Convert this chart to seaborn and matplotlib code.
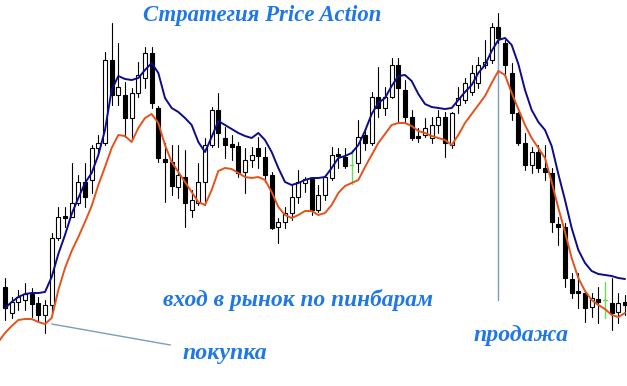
import numpy as np
import pandas as pd
import matplotlib
matplotlib.use("Agg")
import matplotlib.pyplot as plt
import seaborn as sns

# ---- data (chart units, measured top-down) ----
opens = [287, 313, 302, 300, 294, 303, 315, 305, 238, 216, 217, 203, 182, 180, 148, 143, 60, 95, 95, 118,
         93, 78, 53, 108, 159, 162, 187, 177, 210, 203, 182, 145, 110, 138, 144, 146, 172, 160, 148, 157,
         175, 227, 222, 213, 197, 183, 179, 210, 195, 178, 154, 157, 165, 163, 135, 143, 97, 108, 97, 65,
         90, 117, 136, 135, 138, 125, 117, 145, 105, 100, 92, 83, 65, 60, 27, 43, 73, 113, 143, 165,
         152, 168, 173, 224, 227, 279, 291, 293, 307, 299, 300, 303, 312, 302]
highs = [278, 297, 290, 283, 288, 297, 300, 233, 207, 207, 163, 175, 163, 145, 135, 52, 23, 43, 82, 88,
         62, 47, 47, 106, 143, 145, 145, 150, 190, 163, 138, 107, 93, 127, 135, 142, 148, 147, 137, 147,
         172, 218, 207, 185, 170, 177, 177, 185, 175, 147, 148, 148, 150, 120, 128, 92, 67, 87, 58, 58,
         80, 110, 128, 118, 117, 110, 112, 112, 87, 78, 65, 57, 40, 23, 13, 40, 63, 112, 133, 147,
         145, 145, 168, 217, 223, 273, 273, 292, 293, 287, 282, 278, 293, 295]
lows = [320, 318, 310, 310, 317, 322, 333, 315, 240, 227, 217, 205, 207, 193, 153, 145, 105, 105, 137, 140,
        97, 88, 108, 162, 202, 195, 198, 227, 217, 205, 205, 147, 147, 158, 160, 177, 193, 167, 168, 182,
        229, 243, 228, 220, 203, 192, 215, 212, 200, 180, 168, 168, 184, 172, 150, 145, 117, 115, 98, 122,
        122, 140, 142, 137, 143, 133, 157, 148, 113, 103, 95, 88, 68, 63, 43, 77, 120, 145, 170, 173,
        172, 180, 232, 245, 287, 298, 308, 322, 317, 323, 318, 330, 323, 315]
closes = [308, 302, 297, 294, 304, 315, 305, 238, 217, 218, 203, 182, 197, 148, 143, 60, 95, 87, 118, 93,
          75, 53, 103, 158, 162, 186, 175, 203, 200, 182, 145, 110, 133, 145, 147, 173, 160, 155, 156, 175,
          228, 222, 213, 197, 182, 179, 210, 195, 177, 155, 156, 166, 166, 137, 143, 97, 108, 97, 65, 88,
          117, 138, 138, 128, 125, 117, 143, 113, 98, 83, 73, 65, 62, 27, 38, 65, 113, 143, 165, 152,
          168, 172, 222, 227, 278, 293, 293, 308, 298, 302, 302, 313, 303, 305]
pinbars = [52, 90]

ma_fast = [np.nan, 308, 302, 297, 294, 293, 293, 292, 277, 254, 235, 214, 198, 183, 173, 155, 130, 90, 76, 79,
           80, 78, 70, 63, 73, 98, 108, 112, 118, 125, 142, 152, 137, 121, 125, 129, 133, 136, 138, 133,
           140, 152, 168, 182, 185, 183, 180, 178, 178, 177, 168, 158, 156, 153, 145, 131, 114, 103, 98, 86,
           76, 75, 81, 94, 104, 107, 108, 109, 108, 100, 92, 85, 73, 65, 51, 40, 38, 45, 64, 90,
           110, 122, 130, 146, 174, 200, 228, 250, 263, 271, 274, 275, 276, 278, 279]
ma_slow = [342, 333, 326, 320, 319, 319, 322, 324, 318, 290, 268, 251, 237, 222, 206, 185, 167, 148, 135, 136,
           142, 128, 118, 114, 123, 145, 162, 172, 182, 192, 202, 205, 190, 171, 168, 169, 173, 177, 178, 177,
           180, 192, 207, 215, 218, 215, 211, 211, 215, 213, 205, 193, 186, 183, 180, 167, 155, 143, 134, 125,
           123, 123, 126, 131, 133, 136, 138, 140, 145, 135, 123, 114, 105, 96, 83, 71, 75, 93, 109, 125,
           138, 148, 158, 182, 208, 232, 258, 278, 291, 300, 305, 309, 315, 317, 313]

title = "Стратегия Price Action"
label_entry = "вход в рынок по пинбарам"
label_buy = "покупка"
label_sell = "продажа"

# ---- figure ----
sns.set_theme(style="white")
W, H = 627, 386
fig = plt.figure(figsize=(W / 100, H / 100), dpi=100)
ax = fig.add_axes([0, 0, 1, 1])
ax.set_facecolor("white")

idx = np.arange(len(opens))
o = np.array(opens, float); h = np.array(highs, float)
l = np.array(lows, float); c = np.array(closes, float)

df_ma = pd.DataFrame({"i": np.arange(-1, len(ma_fast) - 1),
                      "fast": ma_fast, "slow": ma_slow})

# annotation pointer lines (behind candles)
sell_i = 74
ax.plot([sell_i, sell_i], [20, 300], color="#7d9cc0", lw=1.0, zorder=1)
ax.plot([7.0, 24.8], [324, 345], color="#7d9cc0", lw=1.0, zorder=1)

# candles
body_w = 0.6
for i in idx:
    if i in pinbars:
        col = "#66dd55"
        ax.plot([i, i], [h[i], l[i]], color=col, lw=1.0, zorder=3)
        ax.plot([i - 0.25, i + 0.25], [o[i], o[i]], color=col, lw=1.0, zorder=3)
        continue
    ax.plot([i, i], [h[i], l[i]], color="black", lw=0.8, zorder=3)
    bull = c[i] < o[i]  # top-down units: smaller value = higher
    top, bot = min(o[i], c[i]), max(o[i], c[i])
    hgt = max(bot - top, 1.2)
    ax.bar(i, hgt, bottom=top, width=body_w,
           color="white" if bull else "black",
           edgecolor="black", linewidth=0.8, zorder=4)

sns.lineplot(data=df_ma, x="i", y="slow", ax=ax, color="#e4531c", lw=1.4, zorder=5)
sns.lineplot(data=df_ma, x="i", y="fast", ax=ax, color="#0c0c8a", lw=1.4, zorder=5)

ax.set_xlim(-0.75, 93.3)
ax.set_ylim(H, 0)
ax.axis("off")

txt_kw = dict(family="Liberation Serif", style="italic", weight="bold",
              color="#1f78e6", ha="center", va="center", transform=ax.transAxes)
ax.text(262 / W, 1 - 16 / H, title, fontsize=16.4, **txt_kw)
ax.text(298 / W, 1 - 300 / H, label_entry, fontsize=16.8, **txt_kw)
ax.text(225 / W, 1 - 354 / H, label_buy, fontsize=17.2, **txt_kw)
ax.text(521 / W, 1 - 336 / H, label_sell, fontsize=17.2, **txt_kw)

fig.savefig("out.png", dpi=100)
